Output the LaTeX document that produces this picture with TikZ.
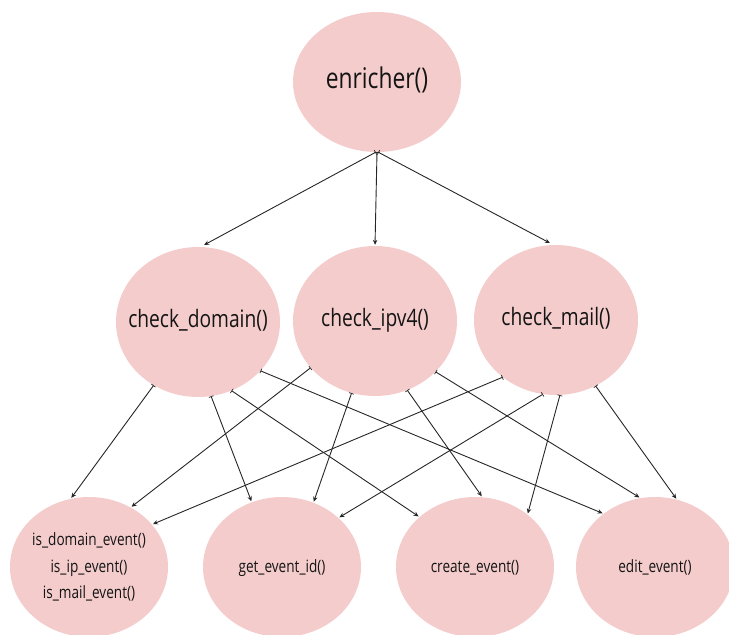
\documentclass[tikz,border=0pt]{standalone}
\usepackage{fontspec}
\setmainfont[FakeStretch=0.8]{Open Sans}
\usetikzlibrary{shapes.geometric,arrows.meta}
\definecolor{pinkfill}{HTML}{F4CCCC}
\definecolor{linec}{HTML}{262626}
\newcommand{\fnlabel}[1]{\makebox[0pt][c]{\begin{tabular}{@{}c@{}}#1\end{tabular}}}
\tikzset{
  fn/.style={ellipse, fill=pinkfill, draw=none, inner sep=0pt, text=black!92},
  big/.style={fn, minimum width=168pt, minimum height=140pt, font=\fontsize{28.5}{30}\selectfont},
  mid/.style={fn, minimum width=164pt, minimum height=150pt, font=\fontsize{24}{26}\selectfont},
  low/.style={fn, minimum width=158pt, minimum height=140pt, font=\fontsize{17}{26.5}\selectfont},
  conn/.style={draw=linec, line width=0.9pt, {Bar[width=5pt,line width=0.7pt]}-{Stealth[length=5pt,width=4.5pt]}, shorten >=1pt}
}
\begin{document}
\begin{tikzpicture}[x=1pt,y=-1pt]
\useasboundingbox (0,0) rectangle (729,635);
\node[big] (E) at (377,82) {\fnlabel{enricher()}};
\node[mid] (CD) at (198,322) {\fnlabel{check\_domain()}};
\node[mid] (CI) at (375,321) {\fnlabel{check\_ipv4()}};
\node[mid] (CM) at (556,320) {\fnlabel{check\_mail()}};
\node[low] (ID) at (89,567) {\fnlabel{is\_domain\_event()\\[0pt]is\_ip\_event()\\[0pt]is\_mail\_event()}};
\node[low] (GE) at (282,567) {\fnlabel{get\_event\_id()}};
\node[low] (CE) at (475,567) {\fnlabel{create\_event()}};
\node[low] (EE) at (655,567) {\fnlabel{edit\_event()}};
% top level
\draw[conn, shorten >=4pt] (E.-91) -- (CD.88);
\draw[conn] (E.south) -- (CI.north);
\draw[conn, shorten >=4pt] (E.-89) -- (CM.92);
% from check_domain
\draw[conn] (CD.-125) -- (ID.105);
\draw[conn] (CD.-80) -- (GE.115);
\draw[conn] (CD.-64) -- (CE.138);
\draw[conn] (CD.-38) -- (EE.134);
% from check_ipv4
\draw[conn] (CI.-144) -- (ID.55);
\draw[conn] (CI.-108) -- (GE.64);
\draw[conn] (CI.-65) -- (CE.84);
\draw[conn] (CI.-40) -- (EE.102);
% from check_mail
\draw[conn] (CM.-133) -- (ID.34);
\draw[conn] (CM.-100) -- (GE.41);
\draw[conn] (CM.-87) -- (CE.45);
\draw[conn] (CM.-59) -- (EE.72);
\end{tikzpicture}
\end{document}
